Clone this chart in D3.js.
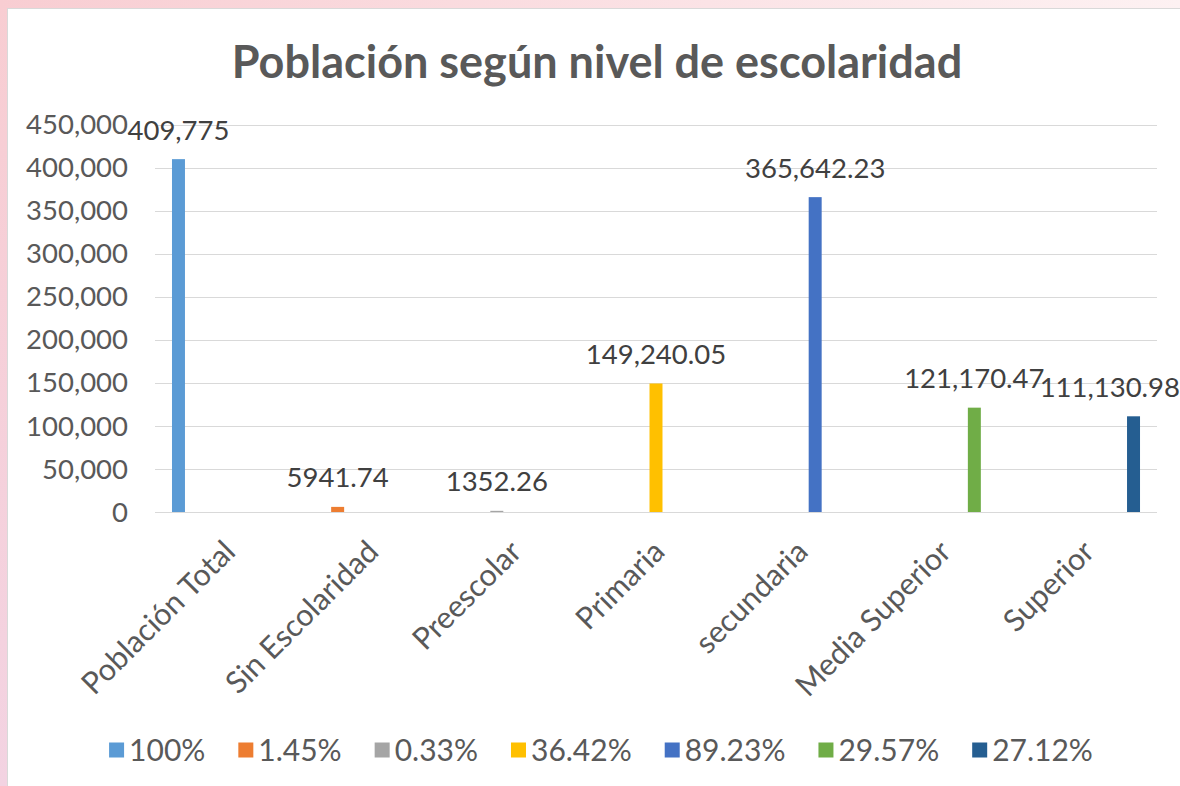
<!DOCTYPE html>
<html>
<head>
<meta charset="utf-8">
<script src="https://cdn.jsdelivr.net/npm/d3@7"></script>
<style>
  html, body { margin: 0; padding: 0; background: #fff; }
  svg { display: block; font-family: Lato, "Open Sans", sans-serif; }
</style>
</head>
<body>
<svg id="chart" width="1180" height="786"></svg>
<script>
// ---- data ----
const categories = ["Población Total", "Sin Escolaridad", "Preescolar", "Primaria", "secundaria", "Media Superior", "Superior"];
const seriesNames = ["100%", "1.45%", "0.33%", "36.42%", "89.23%", "29.57%", "27.12%"];
const values = [409775, 5941.74, 1352.26, 149240.05, 365642.23, 121170.47, 111130.98];
const valueLabels = ["409,775", "5941.74", "1352.26", "149,240.05", "365,642.23", "121,170.47", "111,130.98"];
const colors = ["#5B9BD5", "#ED7D31", "#A5A5A5", "#FFC000", "#4472C4", "#70AD47", "#255E91"];
const yTicks = [0, 50000, 100000, 150000, 200000, 250000, 300000, 350000, 400000, 450000];
const title = "Población según nivel de escolaridad";

const W = 1180, H = 786;
const svg = d3.select("#chart");

// background frame
const defs = svg.append("defs");
const gTop = defs.append("linearGradient").attr("id", "topGrad").attr("x1", "0").attr("x2", "1").attr("y1", "0").attr("y2", "0");
gTop.append("stop").attr("offset", "0").attr("stop-color", "#F8CDD2");
gTop.append("stop").attr("offset", "0.6").attr("stop-color", "#FBE3E6");
gTop.append("stop").attr("offset", "1").attr("stop-color", "#FDF1F2");
const gLeft = defs.append("linearGradient").attr("id", "leftGrad").attr("x1", "0").attr("x2", "0").attr("y1", "0").attr("y2", "1");
gLeft.append("stop").attr("offset", "0").attr("stop-color", "#F8CDD2");
gLeft.append("stop").attr("offset", "1").attr("stop-color", "#F3D3E2");
svg.append("rect").attr("x", 0).attr("y", 0).attr("width", W).attr("height", H).attr("fill", "url(#leftGrad)");
svg.append("rect").attr("x", 0).attr("y", 0).attr("width", W).attr("height", 8).attr("fill", "url(#topGrad)");
svg.append("rect").attr("x", 7.5).attr("y", 8.5).attr("width", W).attr("height", H)
  .attr("fill", "#fff").attr("stroke", "#D9D9D9").attr("stroke-width", 1);

// scales
const plotLeft = 155, plotRight = 1157, y0 = 512, yTop = 124.5;
const y = d3.scaleLinear().domain([0, 450000]).range([y0, yTop]);
const x0 = d3.scaleBand().domain(categories).range([plotLeft, plotRight]).padding(0);
const groupW = x0.bandwidth() * 0.784;
const x1 = d3.scaleBand().domain(seriesNames)
  .range([(x0.bandwidth() - groupW) / 2, (x0.bandwidth() + groupW) / 2])
  .paddingInner(0.19).paddingOuter(0.095);

// gridlines
svg.append("g").selectAll("line").data(yTicks).join("line")
  .attr("x1", plotLeft).attr("x2", plotRight)
  .attr("y1", d => Math.round(y(d)) + 0.5).attr("y2", d => Math.round(y(d)) + 0.5)
  .attr("stroke", "#D9D9D9").attr("stroke-width", 1);

// y tick labels
const fmt = d3.format(",");
svg.append("g").selectAll("text").data(yTicks).join("text")
  .attr("x", 128).attr("y", d => y(d)).attr("dy", "0.35em")
  .attr("text-anchor", "end").attr("fill", "#595959").attr("font-size", 27.5)
  .text(d => fmt(d));

// bars
const data = values.map((v, i) => ({ cat: categories[i], series: seriesNames[i], value: v, label: valueLabels[i], color: colors[i] }));
svg.append("g").selectAll("rect").data(data).join("rect")
  .attr("x", d => x0(d.cat) + x1(d.series))
  .attr("width", x1.bandwidth())
  .attr("y", d => y(d.value))
  .attr("height", d => y0 - y(d.value))
  .attr("fill", d => d.color);

// data labels
const lbl = svg.append("g").selectAll("text").data(data).join("text")
  .attr("y", d => y(d.value) - 19.5)
  .attr("text-anchor", "middle").attr("fill", "#404040").attr("font-size", 27.5)
  .text(d => d.label);
lbl.each(function(d) {
  const w = this.getComputedTextLength();
  let cx = x0(d.cat) + x1(d.series) + x1.bandwidth() / 2;
  cx = Math.min(cx, W - w / 2);
  d3.select(this).attr("x", cx);
});

// category labels
svg.append("g").selectAll("text").data(categories).join("text")
  .attr("transform", d => `translate(${x0(d) + x0.bandwidth() / 2 + 3},${546}) rotate(-45)`)
  .attr("text-anchor", "end").attr("dy", "0.35em")
  .attr("fill", "#595959").attr("font-size", 30.5)
  .text(d => d);

// title
svg.append("text").attr("x", 597).attr("y", 78).attr("text-anchor", "middle")
  .attr("font-weight", "bold").attr("font-size", 45).attr("fill", "#595959")
  .text(title);

// legend
const leg = svg.append("g");
const items = leg.selectAll("g").data(seriesNames).join("g");
items.append("rect").attr("width", 15).attr("height", 15).attr("y", -7.5).attr("fill", (d, i) => colors[i]);
items.append("text").attr("x", 20).attr("dy", "0.35em").attr("fill", "#595959").attr("font-size", 30).text(d => d);
let xPos = 0;
const offs = [];
const gapItems = 33;
items.each(function() {
  offs.push(xPos);
  const tw = d3.select(this).select("text").node().getComputedTextLength();
  xPos += 20 + tw + gapItems;
});
const totalW = xPos - gapItems;
const legStart = 601 - totalW / 2;
items.attr("transform", (d, i) => `translate(${legStart + offs[i]},750)`);
</script>
</body>
</html>
